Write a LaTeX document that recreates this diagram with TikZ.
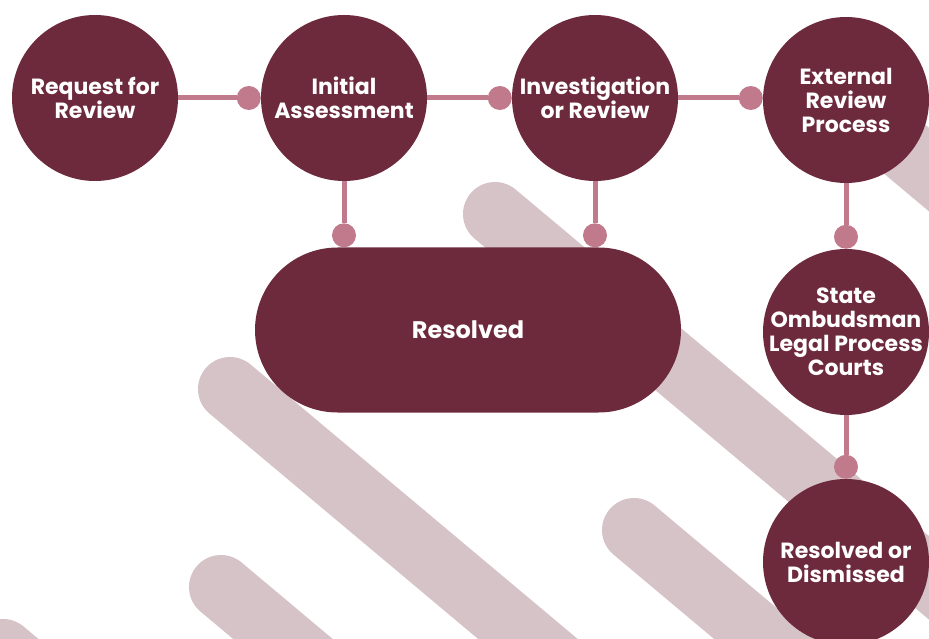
\documentclass[tikz,border=0pt]{standalone}
\usepackage{fontspec}
\newfontfamily\lblfont{Poppins}
\usetikzlibrary{calc,shapes.misc}

\definecolor{maroon}{RGB}{109,42,60}
\definecolor{linkpink}{RGB}{192,122,140}
\definecolor{stripe}{RGB}{214,195,200}

\tikzset{
  labeltext/.style={text=white, align=center, inner sep=0pt,
    font=\lblfont\bfseries\fontsize{22}{24}\selectfont},
  % fixed-size disc; the caption is a centred label so it cannot enlarge the disc
  stage/.style={circle, fill=maroon, minimum size=166pt, inner sep=0pt,
    label={[labeltext]center:#1}},
  pill/.style={rounded rectangle, fill=maroon, minimum width=426pt,
    minimum height=165pt, inner sep=0pt, labeltext,
    font=\lblfont\bfseries\fontsize{24}{26}\selectfont},
  link/.style={draw=linkpink, line width=5pt},
  knob/.style={circle, fill=linkpink, minimum size=24pt, inner sep=0pt},
  band/.style={draw=stripe, line width=64pt, line cap=round},
}

\begin{document}
\begin{tikzpicture}[x=1pt,y=-1pt]
  \useasboundingbox (0,0) rectangle (929,639);
  \clip (0,0) rectangle (929,639);

  % diagonal background bands
  \draw[band] (230,389) -- ++(460,386);
  \draw[band] (221,587) -- ++(460,386);
  \draw[band] (3,651)   -- ++(460,386);
  \draw[band] (495,214) -- ++(600,503);
  \draw[band] (634,530) -- ++(460,386);
  \draw[band] (846,100) -- ++(460,386);

  % stages
  \node[stage={Request for\\Review}]                         (req)   at (95,98)   {};
  \node[stage={Initial\\Assessment}]                         (init)  at (344,98)  {};
  \node[stage={Investigation\\or Review}]                    (inv)   at (595,98)  {};
  \node[stage={External\\Review\\Process}]                   (ext)   at (846,100) {};
  \node[stage={State\\Ombudsman\\Legal Process\\Courts}]     (state) at (846,332) {};
  \node[stage={Resolved or\\Dismissed}]                      (dis)   at (846,562) {};
  \node[pill] (res) at (468,330) {Resolved};

  % knobs touching the stage each connector leads to
  \node[knob] (k1) at ($(init.west)+(-12,0)$) {};
  \node[knob] (k2) at ($(inv.west)+(-12,0)$) {};
  \node[knob] (k3) at ($(ext.west |- inv.west)+(-12,0)$) {};
  \node[knob] (k4) at ($(init.center |- res.north)+(0,-12)$) {};
  \node[knob] (k5) at ($(inv.center |- res.north)+(0,-12)$) {};
  \node[knob] (k6) at ($(state.north)+(0,-12)$) {};
  \node[knob] (k7) at ($(dis.north)+(0,-12)$) {};

  % connectors
  \draw[link] (req.east)    -- (k1);
  \draw[link] (init.east)   -- (k2);
  \draw[link] (inv.east)    -- (k3);
  \draw[link] (init.south)  -- (k4);
  \draw[link] (inv.south)   -- (k5);
  \draw[link] (ext.south)   -- (k6);
  \draw[link] (state.south) -- (k7);
\end{tikzpicture}
\end{document}
